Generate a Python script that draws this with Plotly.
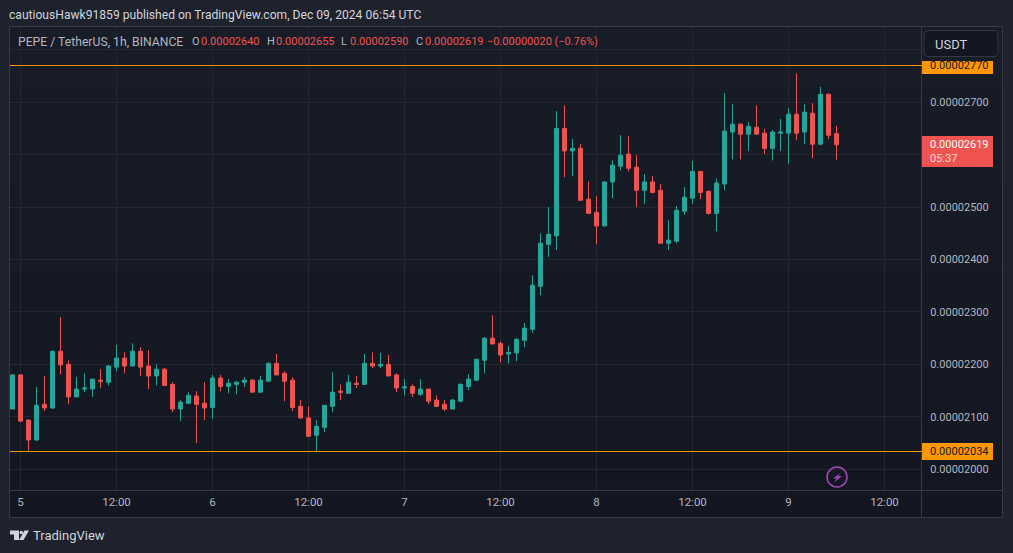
import pandas as pd
import plotly.graph_objects as go

# prices in units of 0.00000001
OPENS = [2115, 2180, 2094, 2056, 2124, 2117, 2225, 2200, 2138, 2153,
         2153, 2170, 2166, 2195, 2212, 2197, 2225, 2197, 2178, 2191,
         2162, 2115, 2126, 2140, 2126, 2118, 2174, 2158, 2162, 2166,
         2170, 2147, 2168, 2202, 2183, 2170, 2120, 2098, 2065, 2080,
         2120, 2149, 2145, 2164, 2162, 2202, 2197, 2200, 2180, 2155,
         2158, 2143, 2153, 2132, 2124, 2115, 2130, 2158, 2170, 2208,
         2250, 2240, 2220, 2222, 2246, 2267, 2349, 2429, 2445, 2650,
         2607, 2612, 2515, 2490, 2464, 2548, 2578, 2601, 2576, 2532,
         2548, 2532, 2431, 2435, 2492, 2517, 2568, 2530, 2488, 2544,
         2643, 2658, 2639, 2652, 2641, 2612, 2641, 2641, 2677, 2643,
         2679, 2620, 2715, 2640]
HIGHS = [2181, 2181, 2094, 2157, 2178, 2227, 2290, 2208, 2176, 2183,
         2172, 2191, 2199, 2237, 2223, 2240, 2233, 2227, 2200, 2193,
         2166, 2132, 2147, 2149, 2166, 2180, 2180, 2172, 2168, 2176,
         2172, 2178, 2204, 2220, 2187, 2176, 2132, 2120, 2094, 2122,
         2185, 2162, 2180, 2178, 2220, 2223, 2222, 2218, 2183, 2172,
         2162, 2172, 2153, 2141, 2132, 2134, 2164, 2181, 2210, 2252,
         2294, 2244, 2235, 2250, 2279, 2370, 2450, 2500, 2683, 2694,
         2630, 2620, 2549, 2521, 2549, 2589, 2637, 2635, 2599, 2563,
         2559, 2544, 2475, 2502, 2538, 2588, 2568, 2532, 2555, 2717,
         2696, 2660, 2662, 2694, 2649, 2647, 2668, 2689, 2755, 2696,
         2698, 2729, 2717, 2655]
LOWS = [2115, 2090, 2034, 2054, 2111, 2115, 2181, 2124, 2138, 2147,
        2138, 2155, 2160, 2187, 2183, 2197, 2178, 2153, 2160, 2160,
        2109, 2092, 2124, 2050, 2094, 2096, 2149, 2145, 2143, 2157,
        2147, 2147, 2168, 2180, 2130, 2111, 2096, 2063, 2034, 2071,
        2109, 2132, 2145, 2155, 2162, 2193, 2193, 2178, 2147, 2141,
        2138, 2140, 2124, 2120, 2111, 2115, 2128, 2151, 2168, 2183,
        2239, 2204, 2202, 2206, 2233, 2260, 2332, 2405, 2418, 2557,
        2559, 2513, 2488, 2429, 2464, 2517, 2570, 2568, 2500, 2506,
        2526, 2431, 2418, 2431, 2485, 2506, 2515, 2486, 2454, 2532,
        2591, 2591, 2607, 2639, 2601, 2589, 2607, 2582, 2628, 2620,
        2593, 2618, 2630, 2590]
CLOSES = [2180, 2092, 2056, 2122, 2117, 2225, 2199, 2138, 2153, 2155,
          2172, 2168, 2197, 2212, 2197, 2225, 2195, 2178, 2191, 2160,
          2115, 2128, 2141, 2124, 2117, 2174, 2158, 2164, 2166, 2170,
          2147, 2170, 2202, 2180, 2168, 2118, 2098, 2063, 2082, 2122,
          2147, 2147, 2166, 2162, 2202, 2197, 2200, 2178, 2155, 2157,
          2145, 2153, 2130, 2120, 2115, 2132, 2162, 2172, 2210, 2250,
          2239, 2218, 2223, 2248, 2269, 2351, 2431, 2448, 2650, 2607,
          2612, 2513, 2488, 2464, 2548, 2580, 2599, 2574, 2532, 2548,
          2528, 2431, 2437, 2494, 2519, 2568, 2528, 2488, 2546, 2645,
          2658, 2639, 2654, 2639, 2612, 2643, 2643, 2677, 2641, 2681,
          2620, 2715, 2637, 2619]

Y_TICKS = [2000, 2100, 2200, 2300, 2400, 2500, 2600, 2700, 2800]
Y_LABELS = ["0.00002000", "0.00002100", "0.00002200", "0.00002300", "0.00002400", "0.00002500", "", "0.00002700", ""]
X_TICKS = ["2024-12-05 00:00", "2024-12-05 12:00", "2024-12-06 00:00", "2024-12-06 12:00",
           "2024-12-07 00:00", "2024-12-07 12:00", "2024-12-08 00:00", "2024-12-08 12:00",
           "2024-12-09 00:00", "2024-12-09 12:00"]
X_LABELS = ["5", "12:00", "6", "12:00", "7", "12:00", "8", "12:00", "9", "12:00"]
LEVELS = [2770, 2034]
TAG_UP = [4.5, 8.5]  # the upper tag is cut off by the currency button

UNIT = 1e-8
RED = "#ef5350"
GREEN = "#26a69a"
ORANGE = "#ff9800"
GRID = "#242731"
EDGE = "#363a45"
TEXT = "#b2b5be"
FONT = "Roboto"

W, H = 1013, 553
LEFT, RIGHT, TOP, BOTTOM = 10, 922, 27, 490
Y_SCALE = 0.52446


def px(x):
    return (x - LEFT) / (RIGHT - LEFT)


def py(y):
    return (BOTTOM - y) / (BOTTOM - TOP)


def rect(x0, y0, x1, y1, fill, line=None, layer="above"):
    return dict(type="rect", xref="paper", yref="paper", x0=px(x0), x1=px(x1), y0=py(y0), y1=py(y1),
                fillcolor=fill, line=dict(color=line or fill, width=1 if line else 0), layer=layer)


def path(points, fill=None, line=None, width=1, close=True):
    d = "M " + " L ".join(f"{px(a):.5f},{py(b):.5f}" for a, b in points) + (" Z" if close else "")
    return dict(type="path", xref="paper", yref="paper", path=d, fillcolor=fill or "rgba(0,0,0,0)",
                line=dict(color=line or "rgba(0,0,0,0)", width=width), layer="above")


def label(x, y, text, color=TEXT, size=11, anchor="left"):
    return dict(xref="paper", yref="paper", x=px(x - 2), y=py(y), text=text, showarrow=False, xanchor=anchor,
                yanchor="middle", align="left", font=dict(color=color, size=size, family=FONT))


times = pd.date_range("2024-12-04 23:00", periods=len(OPENS), freq="h")
t0 = pd.Timestamp("2024-12-05")
x_range = [t0 + pd.Timedelta(hours=(LEFT - 20.5) / 8), t0 + pd.Timedelta(hours=(RIGHT - 20.5) / 8)]
y_range = [(2700 - (BOTTOM - 102.2) / Y_SCALE) * UNIT, (2700 + (102.2 - TOP) / Y_SCALE) * UNIT]

fig = go.Figure(go.Candlestick(
    x=times,
    open=[v * UNIT for v in OPENS], high=[v * UNIT for v in HIGHS],
    low=[v * UNIT for v in LOWS], close=[v * UNIT for v in CLOSES],
    whiskerwidth=0,
    increasing=dict(line=dict(color=GREEN, width=1), fillcolor=GREEN),
    decreasing=dict(line=dict(color=RED, width=1), fillcolor=RED),
))

# panel background, slightly lighter towards the top
shapes = []
bands = 16
top_rgb, bottom_rgb = (24, 28, 39), (19, 23, 34)
for b in range(bands):
    f = b / (bands - 1)
    c = tuple(round(top_rgb[i] + (bottom_rgb[i] - top_rgb[i]) * f) for i in range(3))
    y0 = 26 + (517 - 26) * b / bands
    y1 = 26 + (517 - 26) * (b + 1) / bands
    shapes.append(rect(9.5, y0, 1002.5, y1, f"rgb{c}", layer="below"))

# frame around the chart
shapes.append(rect(9.5, 26.5, 1002.5, 517.5, "rgba(0,0,0,0)", EDGE, layer="above"))
shapes.append(dict(type="line", xref="paper", yref="paper", x0=px(921.5), x1=px(921.5), y0=py(26.5), y1=py(517.5),
                   line=dict(color=EDGE, width=1)))
shapes.append(dict(type="line", xref="paper", yref="paper", x0=px(9.5), x1=px(1002.5), y0=py(490.5), y1=py(490.5),
                   line=dict(color=EDGE, width=1)))

# level lines and their price tags
for level, up in zip(LEVELS, TAG_UP):
    shapes.append(dict(type="line", xref="paper", yref="y", x0=0, x1=1, y0=level * UNIT, y1=level * UNIT,
                       line=dict(color=ORANGE, width=1)))
    shapes.append(dict(type="rect", xref="paper", yref="y", x0=px(922), x1=px(993), ysizemode="pixel",
                       yanchor=level * UNIT, y0=-8.5, y1=up, fillcolor=ORANGE, line=dict(width=0)))

# last price tag
shapes.append(rect(922, 136, 993, 167, RED))

# currency button
bx0, bx1, by0, by1 = 924, 998, 30.5, 56.5
shapes.append(dict(type="path", xref="paper", yref="paper",
                   path=f"M {px(bx0 + 5):.5f},{py(by0):.5f} L {px(bx1 - 5):.5f},{py(by0):.5f} "
                        f"Q {px(bx1):.5f},{py(by0):.5f} {px(bx1):.5f},{py(by0 + 5):.5f} "
                        f"L {px(bx1):.5f},{py(by1 - 5):.5f} Q {px(bx1):.5f},{py(by1):.5f} {px(bx1 - 5):.5f},{py(by1):.5f} "
                        f"L {px(bx0 + 5):.5f},{py(by1):.5f} Q {px(bx0):.5f},{py(by1):.5f} {px(bx0):.5f},{py(by1 - 5):.5f} "
                        f"L {px(bx0):.5f},{py(by0 + 5):.5f} Q {px(bx0):.5f},{py(by0):.5f} {px(bx0 + 5):.5f},{py(by0):.5f} Z",
                   fillcolor="#131722", line=dict(color=EDGE, width=1)))

# lightning badge
shapes.append(dict(type="circle", xref="paper", yref="paper", x0=px(827), x1=px(847), y0=py(487), y1=py(467),
                   fillcolor="rgba(0,0,0,0)", line=dict(color="#ab47bc", width=1.5)))
shapes.append(path([(841, 472.5), (833, 478.5), (836.8, 478.5), (833.8, 482.8), (842, 476), (838, 476)],
                   fill="#ab47bc"))

# logo
shapes.append(path([(10, 530.5), (19, 530.5), (19, 540), (14, 540), (14, 534.5), (10, 534.5)], fill="#d1d4dc"))
shapes.append(dict(type="circle", xref="paper", yref="paper", x0=px(19.5), x1=px(23), y0=py(534.3), y1=py(530.8),
                   fillcolor="#d1d4dc", line=dict(width=0)))
shapes.append(path([(24.5, 530.5), (29, 530.5), (23.5, 540), (19, 540)], fill="#d1d4dc"))

annotations = [
    label(9, 14.5, "cautiousHawk91859 published on TradingView.com, Dec 09, 2024 06:54 UTC", "#d1d4dc", 12.1),
    label(18, 41.5, "PEPE / TetherUS, 1h, BINANCE", TEXT, 12.2),
    label(192, 41.5, "O"), label(201, 41.5, f"{OPENS[-1] * UNIT:.8f}", RED),
    label(267, 41.5, "H"), label(276, 41.5, f"{HIGHS[-1] * UNIT:.8f}", RED),
    label(341, 41.5, "L"), label(350, 41.5, f"{LOWS[-1] * UNIT:.8f}", RED),
    label(416, 41.5, "C"), label(425, 41.5, f"{CLOSES[-1] * UNIT:.8f}", RED),
    label(487, 41.5, "\u22120.00000020 (\u22120.76%)", RED),
    label(935, 44, "USDT", "#d1d4dc", 13),
    label(930, 151.5, f"<span style='color:#ffffff'>{CLOSES[-1] * UNIT:.8f}</span><br>"
                      "<span style='color:#ffd9dc'>05:37</span>", "#ffffff"),
    label(33, 535.5, "TradingView", "#d1d4dc", 13),
]
for level in LEVELS:
    annotations.append(dict(xref="paper", yref="y", x=px(928), y=level * UNIT, text=f"{level * UNIT:.8f}",
                            showarrow=False, xanchor="left", yanchor="middle",
                            font=dict(color="#131722", size=11, family=FONT)))

fig.update_layout(
    width=W, height=H,
    margin=dict(l=LEFT, r=W - RIGHT, t=TOP, b=H - BOTTOM),
    paper_bgcolor="#1e222d",
    plot_bgcolor="rgba(0,0,0,0)",
    showlegend=False,
    boxgap=0.3, boxgroupgap=0.2857,
    font=dict(family=FONT, color=TEXT, size=11.5),
    shapes=shapes,
    annotations=annotations,
    xaxis=dict(range=x_range, rangeslider=dict(visible=False), tickmode="array", tickvals=X_TICKS, ticktext=X_LABELS,
               gridcolor=GRID, gridwidth=1, showline=False, zeroline=False, ticks="outside", ticklen=1,
               tickcolor="rgba(0,0,0,0)", tickangle=0),
    yaxis=dict(range=y_range, side="right", tickmode="array", tickvals=[v * UNIT for v in Y_TICKS], ticktext=Y_LABELS,
               tickfont=dict(size=11), gridcolor=GRID, gridwidth=1, showline=False, zeroline=False, ticks="outside",
               ticklen=5, tickcolor="rgba(0,0,0,0)"),
)

fig.write_html("out.html", config={"displayModeBar": False},
               post_script="document.body.style.margin='0';document.body.style.overflow='hidden';")
